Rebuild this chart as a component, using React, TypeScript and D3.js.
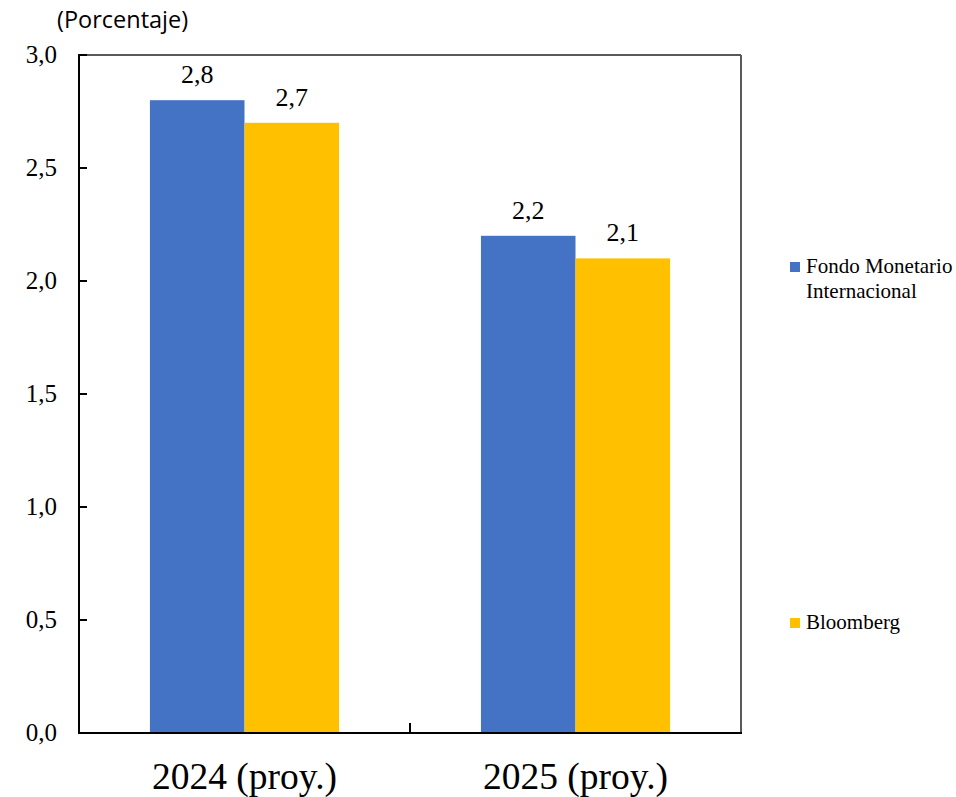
import React from "react";
import * as d3 from "d3";

const categories = ["2024 (proy.)", "2025 (proy.)"];
const seriesNames = ["Fondo Monetario Internacional", "Bloomberg"];
const fmiValues = [2.8, 2.2];
const bloombergValues = [2.7, 2.1];
const yTicks = [0, 0.5, 1.0, 1.5, 2.0, 2.5, 3.0];
const colors = ["#4472C4", "#FFC000"];

const W = 956, H = 797;
const M = { left: 79, right: 741, top: 55, bottom: 733 };

export default function App() {
  const x = d3.scaleBand<string>().domain(categories).range([M.left, M.right]).paddingInner(0).paddingOuter(0);
  const inner = d3.scaleBand<number>().domain([0, 1]).range([0, x.bandwidth()]).paddingOuter(0.75).paddingInner(0);
  const y = d3.scaleLinear().domain([0, 3]).range([M.bottom, M.top]);
  const series = [fmiValues, bloombergValues];
  const fmt = (v: number) => d3.format(".1f")(v).replace(".", ",");
  const serif = "'Liberation Serif', 'Times New Roman', serif";

  return (
    <svg width={W} height={H} style={{ position: "absolute", left: 0, top: 0, background: "#fff" }}>
      <text x={57} y={28} fontFamily="'Open Sans', 'Noto Sans', sans-serif" fontSize={23.5} fill="#000">(Porcentaje)</text>
      {/* plot border top/right */}
      <line x1={M.left} x2={M.right} y1={M.top} y2={M.top} stroke="#595959" strokeWidth={2} />
      <line x1={M.right} x2={M.right} y1={M.top} y2={M.bottom} stroke="#595959" strokeWidth={2} />
      {series.map((vals, si) =>
        categories.map((c, ci) => {
          const bx = (x(c) as number) + (inner(si) as number);
          const bw = inner.bandwidth();
          return (
            <g key={`${si}-${ci}`}>
              <rect x={bx} y={y(vals[ci])} width={bw} height={y(0) - y(vals[ci])} fill={colors[si]} />
              <text x={bx + bw / 2} y={y(vals[ci]) - 17} textAnchor="middle" fontFamily={serif} fontSize={26} fill="#000">{fmt(vals[ci])}</text>
            </g>
          );
        })
      )}
      {/* y axis */}
      <line x1={M.left} x2={M.left} y1={M.top - 1} y2={M.bottom + 1} stroke="#000" strokeWidth={2} />
      {yTicks.map((t) => (
        <g key={t}>
          <line x1={M.left} x2={M.left + 8} y1={y(t)} y2={y(t)} stroke="#000" strokeWidth={2} />
          <text x={57} y={y(t) + 8} textAnchor="end" fontFamily={serif} fontSize={25} fill="#000">{fmt(t)}</text>
        </g>
      ))}
      {/* x axis */}
      <line x1={M.left - 1} x2={M.right + 1} y1={M.bottom} y2={M.bottom} stroke="#000" strokeWidth={2} />
      {categories.map((c, i) => (
        <g key={c}>
          {i > 0 && <line x1={x(c)} x2={x(c)} y1={M.bottom} y2={M.bottom - 10} stroke="#000" strokeWidth={2} />}
          <text x={(x(c) as number) + x.bandwidth() / 2} y={789} textAnchor="middle" fontFamily={serif} fontSize={37.5} fill="#000">{c}</text>
        </g>
      ))}
      {/* legend */}
      <rect x={790} y={262} width={10} height={10} fill={colors[0]} />
      <text x={806} y={273} fontFamily={serif} fontSize={21} fill="#000">
        <tspan x={806}>Fondo Monetario</tspan>
        <tspan x={806} dy={25}>Internacional</tspan>
      </text>
      <rect x={790} y={618} width={10} height={10} fill={colors[1]} />
      <text x={806} y={629} fontFamily={serif} fontSize={21} fill="#000">{seriesNames[1]}</text>
    </svg>
  );
}
